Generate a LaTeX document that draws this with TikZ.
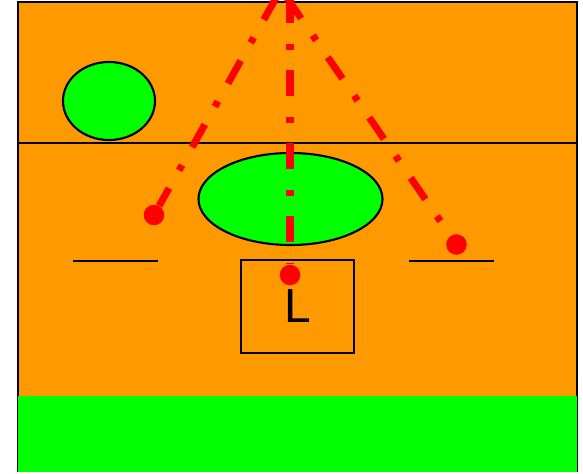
\documentclass[tikz,border=0pt]{standalone}
\usepackage{fontspec}
\setsansfont{Liberation Sans}
\usepackage{tikz}
\usetikzlibrary{positioning}
\definecolor{fdorange}{RGB}{255,153,0}
\definecolor{fdgreen}{RGB}{0,255,0}
\definecolor{fdred}{RGB}{255,0,0}
\tikzset{
  field/.style={draw=black, line width=1.1pt, fill=fdorange},
  lawn/.style={fill=fdgreen},
  blob/.style={draw=black, line width=1.5pt, fill=fdgreen},
  mark line/.style={draw=black, line width=1.1pt},
  lbox/.style={
    draw=black, line width=1.1pt, minimum width=2.825cm, minimum height=2.325cm,
    inner sep=0pt, font=\sffamily\fontsize{34}{40}\selectfont
  },
  spot/.style={circle, fill=fdred, inner sep=0pt, minimum size=14.6pt},
  ray/.style={
    draw=fdred, line width=5pt,
    dash pattern=on 18.5pt off 14.6pt on 4.3pt off 14.6pt
  }
}
\begin{document}
\begin{tikzpicture}[x=0.025cm, y=-0.025cm]
  \useasboundingbox (0,0) rectangle (583,473);
  % ground
  \draw[field] (18,2) rectangle (577,471);
  \fill[lawn] (18,396) rectangle (577,472);
  \draw[mark line] (18,143) -- (577,143);
  % green areas
  \draw[blob] (109,101) ellipse (46 and 39);
  \draw[blob] (290.5,199) ellipse (92 and 46);
  % short marks
  \draw[mark line] (73,261) -- (158,261);
  \draw[mark line] (409,261) -- (494,261);
  % box with letter
  \node[lbox] (lb) at (297.5,306.5) {L};
  % spots
  \node[spot] (sl) at (154,215) {};
  \node[spot] (sc) at (290,275) {};
  \node[spot] (sr) at (456.5,244.5) {};
  \coordinate (tl) at (276.5,-3);
  \coordinate (tc) at (290,-3);
  \coordinate (tr) at (286.4,-3);
  % rays
  \draw[ray] (tl) -- (sl);
  \draw[ray] (tc) -- (sc);
  \draw[ray] (tr) -- (sr);
\end{tikzpicture}
\end{document}
